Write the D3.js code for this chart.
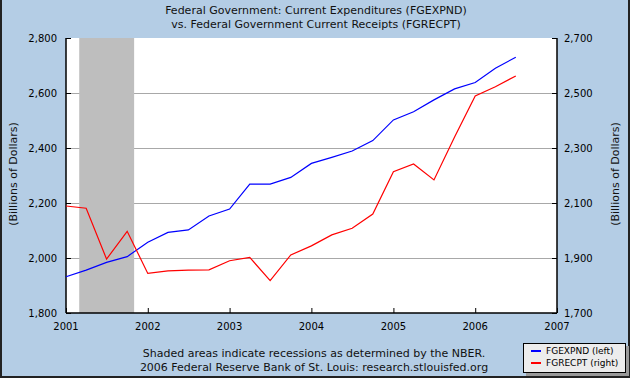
<!DOCTYPE html>
<html>
<head>
<meta charset="utf-8">
<script src="https://cdn.jsdelivr.net/npm/d3@7"></script>
<style>
  html, body { margin: 0; padding: 0; background: #B4CDE5; }
  svg { display: block; font-family: "DejaVu Sans", Verdana, sans-serif; }
</style>
</head>
<body>
<svg id="chart" width="630" height="378"></svg>
<script>
// ---- data (quarterly, billions of dollars) ----
const quarters = ["2001-01-01","2001-04-01","2001-07-01","2001-10-01",
  "2002-01-01","2002-04-01","2002-07-01","2002-10-01",
  "2003-01-01","2003-04-01","2003-07-01","2003-10-01",
  "2004-01-01","2004-04-01","2004-07-01","2004-10-01",
  "2005-01-01","2005-04-01","2005-07-01","2005-10-01",
  "2006-01-01","2006-04-01","2006-07-01"];
const fgexpnd = [1932, 1956, 1984, 2005, 2057, 2093, 2102, 2153,
  2178, 2269, 2269, 2293, 2344, 2366, 2389, 2427,
  2502, 2532, 2575, 2615, 2638, 2690, 2730];
const fgrecpt = [2089, 2081, 1896, 1997, 1844, 1853, 1856, 1857,
  1890, 1902, 1818, 1911, 1944, 1984, 2008, 2060,
  2214, 2242, 2184, 2340, 2489, 2523, 2562];
const recessions = [["2001-03-01", "2001-11-01"]];
const leftTicks = [1800, 2000, 2200, 2400, 2600, 2800];
const rightTicks = [1700, 1900, 2100, 2300, 2500, 2700];
const yearTicks = ["2001","2002","2003","2004","2005","2006","2007"];
const titleLines = ["Federal Government: Current Expenditures (FGEXPND)",
  "vs.  Federal Government Current Receipts (FGRECPT)"];
const footerLines = ["Shaded areas indicate recessions as determined by the NBER.",
  "2006 Federal Reserve Bank of St. Louis: research.stlouisfed.org"];
const legendItems = [["FGEXPND (left)", "#0000FF"], ["FGRECPT (right)", "#FF0000"]];

// ---- layout ----
const W = 630, H = 378;
const L = 66, R = 557, T = 38, B = 313;
const parse = d3.timeParse("%Y-%m-%d");
const svg = d3.select("#chart");

const x = d3.scaleTime().domain([parse("2001-01-01"), parse("2007-01-01")]).range([L, R]);
const yL = d3.scaleLinear().domain([1800, 2800]).range([B, T]);
const yR = d3.scaleLinear().domain([1700, 2700]).range([B, T]);

// background
svg.append("rect").attr("x", 0).attr("y", 0).attr("width", W).attr("height", H).attr("fill", "#B4CDE5");
// outer border (left, right, bottom)
svg.append("path").attr("d", `M1,0 V${H-1} H${W-1} V0`).attr("fill", "none").attr("stroke", "#222").attr("stroke-width", 2);

// plot area
svg.append("rect").attr("x", L).attr("y", T).attr("width", R - L).attr("height", B - T).attr("fill", "#fff");

// gridlines
svg.append("g").selectAll("line").data(leftTicks.filter(v => v > 1800 && v < 2800)).join("line")
  .attr("x1", L).attr("x2", R)
  .attr("y1", d => Math.round(yL(d)) + 0.5).attr("y2", d => Math.round(yL(d)) + 0.5)
  .attr("stroke", "#A8A8A8").attr("stroke-width", 1);

// recession shading
svg.append("g").selectAll("rect").data(recessions).join("rect")
  .attr("x", d => x(parse(d[0]))).attr("y", T)
  .attr("width", d => x(parse(d[1])) - x(parse(d[0])))
  .attr("height", B - T).attr("fill", "#BEBEBE");

// axes
const fmt = d3.format(",");
const axL = svg.append("g").attr("transform", `translate(${L},0)`)
  .call(d3.axisRight(yL).tickValues(leftTicks).tickSize(5).tickFormat(""));
const axR = svg.append("g").attr("transform", `translate(${R},0)`)
  .call(d3.axisLeft(yR).tickValues(rightTicks).tickSize(5).tickFormat(""));
const axB = svg.append("g").attr("transform", `translate(0,${B})`)
  .call(d3.axisTop(x).tickValues(yearTicks.map(y => parse(y + "-01-01"))).tickSize(5).tickFormat(""));
[axL, axR, axB].forEach(a => {
  a.selectAll(".domain").attr("stroke", "#000").attr("stroke-width", 1.5);
  a.selectAll(".tick line").attr("stroke", "#000").attr("stroke-width", 1);
});
axL.select(".domain").attr("d", `M0,${T}V${B}`);
axR.select(".domain").attr("d", `M0,${T}V${B}`);
axB.select(".domain").attr("d", `M${L},0H${R}`);

// tick labels
svg.append("g").selectAll("text").data(leftTicks).join("text")
  .attr("x", L - 9).attr("y", d => yL(d) + 3.5).attr("text-anchor", "end")
  .attr("font-size", 10).attr("fill", "#000").text(d => fmt(d));
svg.append("g").selectAll("text").data(rightTicks).join("text")
  .attr("x", R + 7).attr("y", d => yR(d) + 3.5).attr("text-anchor", "start")
  .attr("font-size", 10).attr("fill", "#000").text(d => fmt(d));
svg.append("g").selectAll("text").data(yearTicks).join("text")
  .attr("x", d => x(parse(d + "-01-01"))).attr("y", B + 17).attr("text-anchor", "middle")
  .attr("font-size", 10).attr("fill", "#000").text(d => d);

// axis titles
svg.append("text").attr("transform", `translate(17,174) rotate(-90)`).attr("text-anchor", "middle")
  .attr("font-size", 11).attr("fill", "#111").text("(Billions of Dollars)");
svg.append("text").attr("transform", `translate(619,174) rotate(-90)`).attr("text-anchor", "middle")
  .attr("font-size", 11).attr("fill", "#111").text("(Billions of Dollars)");

// lines
const dates = quarters.map(parse);
const lineL = d3.line().x((d, i) => x(dates[i])).y(d => yL(d));
const lineR = d3.line().x((d, i) => x(dates[i])).y(d => yR(d));
svg.append("path").datum(fgexpnd).attr("d", lineL).attr("fill", "none").attr("stroke", "#0000FF").attr("stroke-width", 1.2);
svg.append("path").datum(fgrecpt).attr("d", lineR).attr("fill", "none").attr("stroke", "#FF0000").attr("stroke-width", 1.2);

// title
svg.append("g").selectAll("text").data(titleLines).join("text")
  .attr("x", 316).attr("y", (d, i) => 14 + i * 14).attr("text-anchor", "middle")
  .attr("font-size", 11).attr("fill", "#111").text(d => d);

// footer
svg.append("g").selectAll("text").data(footerLines).join("text")
  .attr("x", 314).attr("y", (d, i) => 357 + i * 14).attr("text-anchor", "middle")
  .attr("font-size", 11).attr("fill", "#111").text(d => d);

// legend
const lg = svg.append("g");
lg.append("rect").attr("x", 526).attr("y", 346).attr("width", 103).attr("height", 30).attr("fill", "#999");
lg.append("rect").attr("x", 523.5).attr("y", 343.5).attr("width", 102).attr("height", 29)
  .attr("fill", "#ECECEC").attr("stroke", "#000").attr("stroke-width", 1);
lg.selectAll("g.item").data(legendItems).join("g").attr("class", "item")
  .each(function(d, i) {
    const g = d3.select(this);
    const yy = 351 + i * 12;
    g.append("line").attr("x1", 531).attr("x2", 541).attr("y1", yy).attr("y2", yy)
      .attr("stroke", d[1]).attr("stroke-width", 2);
    g.append("text").attr("x", 546).attr("y", yy + 3).attr("font-size", 9).attr("fill", "#000").text(d[0]);
  });
</script>
</body>
</html>
